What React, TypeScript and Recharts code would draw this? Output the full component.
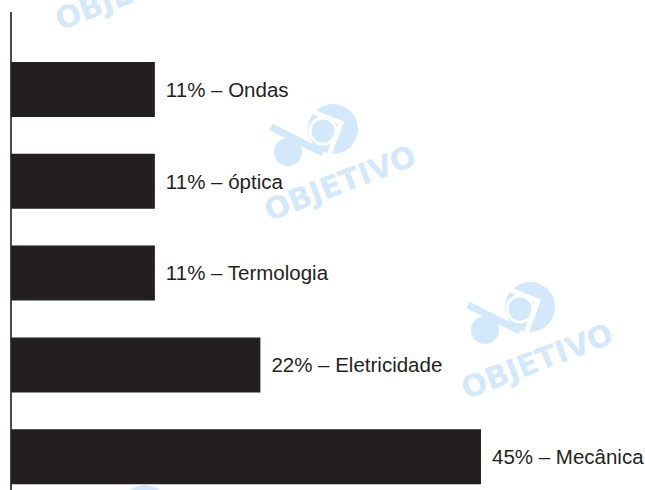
import { Bar, BarChart, LabelList, XAxis, YAxis } from 'recharts'

const categories = ['Ondas', 'óptica', 'Termologia', 'Eletricidade', 'Mecânica']
const percentages = [11, 11, 11, 22, 45]

// axis starts a bit below zero, so the bars begin at the axis line
const AXIS_MIN = -4
const AXIS_MAX = 62.1

const BAR_COLOR = '#231f20'
const MARK_COLOR = '#d3e8fa'

const chartData = categories.map((name, i) => ({
	name,
	value: percentages[i],
	label: `${percentages[i]}% – ${name}`,
}))

const watermarks = [
	{ x: 124, y: -62, word: true },
	{ x: 333, y: 129, word: true },
	{ x: 530, y: 307, word: true },
	{ x: 145, y: 510, word: false },
]

const Watermark = ({ x, y, word }: { x: number; y: number; word: boolean }) => (
	<g transform={`translate(${x},${y})`}>
		<circle cx={0} cy={0} r={25} fill={MARK_COLOR} />
		<circle cx={-45} cy={23} r={14} fill={MARK_COLOR} />
		<line x1={-62} y1={-2} x2={-10} y2={24} stroke={MARK_COLOR} strokeWidth={7} />
		<polyline
			points='-22,-18 8,-6 -4,26'
			fill='none'
			stroke='#ffffff'
			strokeWidth={5}
		/>
		<circle cx={-10} cy={2} r={13} fill='none' stroke='#ffffff' strokeWidth={3} />
		{word && (
			<text
				x={7}
				y={54}
				textAnchor='middle'
				dominantBaseline='central'
				transform='rotate(-21 7 54)'
				style={{
					fontSize: 30,
					fontWeight: 900,
					fontFamily: 'DejaVu Sans, sans-serif',
					fill: MARK_COLOR,
				}}
			>
				OBJETIVO
			</text>
		)}
	</g>
)

export default function App() {
	return (
		<div
			style={{
				position: 'fixed',
				top: 0,
				left: 0,
				width: 645,
				height: 490,
				overflow: 'hidden',
				background: '#ffffff',
			}}
		>
			<svg
				width={645}
				height={490}
				style={{ position: 'absolute', top: 0, left: 0 }}
			>
				{watermarks.map((w, i) => (
					<Watermark key={i} x={w.x} y={w.y} word={w.word} />
				))}
			</svg>

			<div style={{ position: 'absolute', top: 0, left: 0 }}>
				<BarChart
					width={645}
					height={503}
					data={chartData}
					layout='vertical'
					margin={{ top: 12, right: 0, bottom: 0, left: 0 }}
				>
					<XAxis type='number' domain={[AXIS_MIN, AXIS_MAX]} hide />
					<YAxis
						type='category'
						dataKey='name'
						width={11}
						tick={false}
						tickLine={false}
						axisLine={{ stroke: BAR_COLOR, strokeWidth: 1.6 }}
						padding={{ top: 32, bottom: 0 }}
					/>
					<Bar
						dataKey={(d: { value: number }) => [AXIS_MIN, d.value]}
						fill={BAR_COLOR}
						barSize={55}
						isAnimationActive={false}
					>
						<LabelList
							dataKey='label'
							position='right'
							offset={11}
							fill={BAR_COLOR}
							style={{
								fontSize: 20.5,
								fontFamily: 'Liberation Sans, Arial, sans-serif',
							}}
						/>
					</Bar>
				</BarChart>
			</div>
		</div>
	)
}
